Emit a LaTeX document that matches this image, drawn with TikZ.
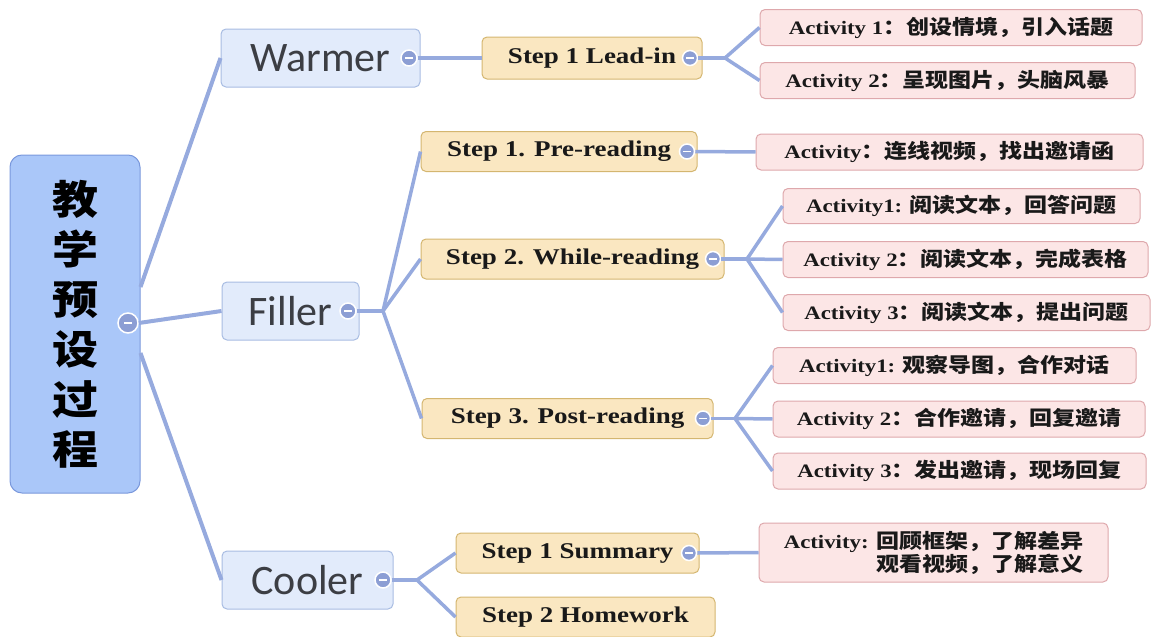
\documentclass[tikz,border=0pt]{standalone}
\usepackage{fontspec}
\setmainfont{Liberation Serif}[FakeStretch=1.2]
\newfontfamily\cjkfont{Noto Sans CJK SC}[FakeStretch=1.15]
\newfontfamily\topicfont{Carlito}
\definecolor{rootfill}{RGB}{170,199,249}
\definecolor{rootline}{RGB}{122,152,220}
\definecolor{topicfill}{RGB}{226,235,251}
\definecolor{topicline}{RGB}{168,188,226}
\definecolor{topictext}{RGB}{60,62,68}
\definecolor{stepfill}{RGB}{250,231,193}
\definecolor{stepline}{RGB}{212,182,112}
\definecolor{actfill}{RGB}{252,230,230}
\definecolor{actline}{RGB}{222,168,172}
\definecolor{linkblue}{RGB}{150,170,222}
\definecolor{foldfill}{RGB}{140,158,212}
\newcommand\zh[1]{{\cjkfont\bfseries\fontsize{20}{23}\selectfont #1}}
\newcommand\acttext[2]{{\bfseries #1}\zh{#2}}
\begin{document}
\begin{tikzpicture}[x=1pt,y=-1pt,
    box/.style={draw, rounded corners=5pt, line width=1pt, inner sep=0pt},
    rootbox/.style={box, rounded corners=12pt, fill=rootfill, draw=rootline, minimum width=130pt, minimum height=338pt, align=center, font=\cjkfont\bfseries\fontsize{40}{50}\selectfont},
    topic/.style={box, fill=topicfill, draw=topicline, minimum height=58pt, text=topictext, font=\topicfont\fontsize{42}{42}\selectfont},
    stepbox/.style={box, fill=stepfill, draw=stepline, minimum height=40pt, text=black!90, font=\bfseries\fontsize{22.5}{22.5}\selectfont},
    actbox/.style={box, fill=actfill, draw=actline, minimum height=36pt, text=black!90, font=\fontsize{19}{23}\selectfont},
    link/.style={linkblue, line width=3.5pt},
    rootlink/.style={linkblue, line width=4pt},
    fold/.style={circle, fill=foldfill, draw=white, line width=1.5pt, minimum size=15pt, inner sep=0pt,
        path picture={\draw[white, line width=1.2pt] ([xshift=-4pt]path picture bounding box.center) -- ([xshift=4pt]path picture bounding box.center);}}]
    \useasboundingbox (0,0) rectangle (1151,637);
    \node[rootbox] (root) at (75,324) {教\\学\\预\\设\\过\\程};
    \node[topic, minimum width=199pt] (warmer) at (320.5,58) {Warmer};
    \node[topic, minimum width=137pt] (filler) at (290.5,311) {Filler};
    \node[topic, minimum width=171pt] (cooler) at (307.5,580) {Cooler};
    \node[stepbox, minimum width=220pt, minimum height=42pt] (leadin) at (592,58) {Step 1 Lead-in};
    \node[stepbox, minimum width=276pt] (prereading) at (559,151.5) {Step 1. Pre-reading};
    \node[stepbox, minimum width=303pt] (whilereading) at (572.5,259) {Step 2. While-reading};
    \node[stepbox, minimum width=291pt] (postreading) at (567.5,418.5) {Step 3. Post-reading};
    \node[stepbox, minimum width=243pt] (summary) at (577.5,553) {Step 1 Summary};
    \node[stepbox, minimum width=259pt] (homework) at (585.5,617) {Step 2 Homework};
    \node[actbox, minimum width=382pt] (warmact1) at (951,27.5) {\acttext{Activity 1}{：创设情境，引入话题}};
    \node[actbox, minimum width=375pt] (warmact2) at (947.5,80.5) {\acttext{Activity 2}{：呈现图片，头脑风暴}};
    \node[actbox, minimum width=387pt] (preact) at (949.5,152) {\acttext{Activity}{：连线视频，找出邀请函}};
    \node[actbox, minimum width=357pt, minimum height=35pt] (whileact1) at (961.5,206) {\acttext{Activity1: }{阅读文本，回答问题}};
    \node[actbox, minimum width=365pt] (whileact2) at (965.5,259.5) {\acttext{Activity 2}{：阅读文本，完成表格}};
    \node[actbox, minimum width=367pt] (whileact3) at (966.5,312.5) {\acttext{Activity 3}{：阅读文本，提出问题}};
    \node[actbox, minimum width=363pt] (postact1) at (954.5,365.5) {\acttext{Activity1: }{观察导图，合作对话}};
    \node[actbox, minimum width=372pt] (postact2) at (959,419) {\acttext{Activity 2}{：合作邀请，回复邀请}};
    \node[actbox, minimum width=373pt] (postact3) at (959.5,471) {\acttext{Activity 3}{：发出邀请，现场回复}};
    \node[actbox, minimum width=349pt, minimum height=59pt, align=left] (sumact) at (933.5,552.5)
        {\acttext{Activity: }{回顾框架，了解差异}\\\hphantom{\bfseries Activity: }\zh{观看视频，了解意义}};
    \node[fold, minimum size=20pt] (rootfold) at (128,323) {};
    \node[fold, minimum size=16pt] (warmerfold) at (409,58) {};
    \node[fold, minimum size=16pt] (fillerfold) at (348,311) {};
    \node[fold, minimum size=16pt] (coolerfold) at (383,580) {};
    \node[fold] (leadinfold) at (690,58) {};
    \node[fold] (prefold) at (687,151.5) {};
    \node[fold] (whilefold) at (713,259) {};
    \node[fold] (postfold) at (703,418.5) {};
    \node[fold] (summaryfold) at (689,553) {};
    \coordinate (fillerfork) at (383,311);
    \coordinate (coolerfork) at (417,580);
    \coordinate (leadfork) at (725,58);
    \coordinate (whilefork) at (747,259);
    \coordinate (postfork) at (735,418.5);
    \draw[rootlink] ([yshift=37pt]root.east) -- (warmer.west);
    \draw[rootlink] (rootfold.east) -- (filler.west);
    \draw[rootlink] ([yshift=-29pt]root.east) -- (cooler.west);
    \draw[link] (warmerfold.east) -- (leadin.west);
    \draw[link] (fillerfold.east) -- (fillerfork);
    \draw[link] (fillerfork) -- (prereading.west);
    \draw[link] (fillerfork) -- (whilereading.west);
    \draw[link] (fillerfork) -- (postreading.west);
    \draw[link] (coolerfold.east) -- (coolerfork);
    \draw[link] (coolerfork) -- (summary.west);
    \draw[link] (coolerfork) -- (homework.west);
    \draw[link] (leadinfold.east) -- (leadfork);
    \draw[link] (leadfork) -- (warmact1.west);
    \draw[link] (leadfork) -- (warmact2.west);
    \draw[link] (prefold.east) -- (preact.west);
    \draw[link] (whilefold.east) -- (whilefork);
    \draw[link] (whilefork) -- (whileact1.west);
    \draw[link] (whilefork) -- (whileact2.west);
    \draw[link] (whilefork) -- (whileact3.west);
    \draw[link] (postfold.east) -- (postfork);
    \draw[link] (postfork) -- (postact1.west);
    \draw[link] (postfork) -- (postact2.west);
    \draw[link] (postfork) -- (postact3.west);
    \draw[link] (summaryfold.east) -- (sumact.west);
\end{tikzpicture}
\end{document}
